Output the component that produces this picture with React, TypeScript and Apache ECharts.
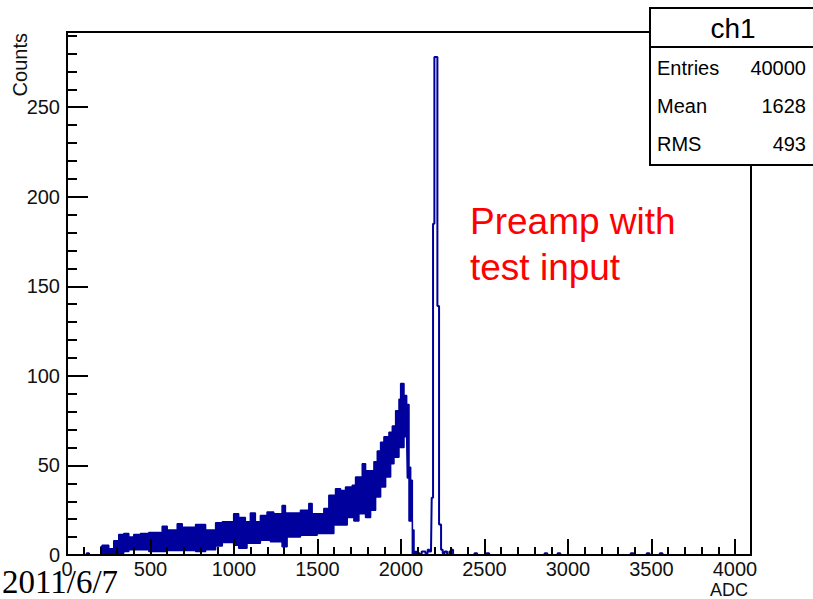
import React, { useEffect, useRef } from 'react';
import * as echarts from 'echarts';

const BLUE = '#00009c';
const X_MAX = 4096;
const Y_MAX = 292;

// ch1 continuum: bin edges (ADC) with the upper and lower envelope of the counts
const bandEdges = [
  200, 210, 250, 280, 310, 340, 370, 400, 440, 490, 570, 600, 660, 690, 770, 830, 890, 930,
  998, 1028, 1068, 1078, 1098, 1128, 1158, 1198, 1218, 1238, 1288, 1308, 1318, 1398, 1448,
  1468, 1498, 1538, 1568, 1598, 1608, 1638, 1668, 1678, 1708, 1718, 1728, 1748, 1768, 1788,
  1818, 1838, 1848, 1858, 1878, 1898, 1908, 1928, 1938, 1948, 1958, 1968, 1988, 1998, 2018,
  2034, 2038, 2048, 2058, 2068, 2078, 2098,
];
const bandUpper = [
  4.6, 5.5, 3.5, 8, 11.5, 12, 10, 11.5, 12, 12.5, 16, 14, 17.5, 15.5, 17, 14, 18, 18.5,
  23, 21, 18.5, 18.5, 23.5, 18.5, 22, 24, 24, 23, 27.7, 23.5, 23.5, 25, 28.7,
  23, 23, 26, 33.3, 33.3, 37, 36, 38, 38, 39, 39, 43.5, 43.5, 51, 47,
  47, 52, 52, 58, 63, 66, 66, 68.5, 68.5, 72, 72, 80.5, 87, 95.7, 89,
  84, 84, 49, 41.7, 14, 2, 0,
];
const bandLower = [
  0.5, 1, 0.5, 1, 1, 2, 3, 3, 3, 2, 2, 2.5, 2.5, 2.5, 2, 3, 5, 7,
  5.5, 3.7, 3.7, 6.5, 6.5, 6.5, 8.3, 8.3, 7.4, 7.4, 4.6, 4.6, 10, 11, 11,
  11, 12, 12, 12, 16.7, 16.7, 16.7, 16.7, 21, 21, 19, 19, 23, 23, 21,
  25, 25, 32.4, 32.4, 38, 38, 43.5, 43.5, 51, 51, 54.6, 54.6, 60, 60, 66,
  66, 43, 19, 19, 0, 0, 0,
];

// isolated bins and the test-pulse peak
const peakEdges = [
  0, 118, 132, 2098, 2112, 2124, 2146, 2160, 2170, 2180, 2184, 2192, 2200, 2218, 2228, 2240,
  2250, 2262, 2276, 2290, 2300, 2312, 2440, 2456, 2512, 2528, 2860, 2876, 2938, 2954, 3376,
  3392, 3472, 3488, 3550, 3566, 4096,
];
const peakCounts = [
  0, 1, 0, 1, 0, 2, 1, 3, 2, 4, 32, 185, 278, 139, 17, 3,
  1, 2, 0, 2, 3, 0, 1, 0, 1, 0, 1, 0, 1, 0, 1,
  0, 1, 0, 1, 0, 0,
];

const xTickLabels = ['0', '500', '1000', '1500', '2000', '2500', '3000', '3500', '4000'];
const yTickLabels = ['0', '50', '100', '150', '200', '250'];

const histTitle = 'ch1';
const statNames = ['Entries', 'Mean', 'RMS'];
const statValues = ['40000', '1628', '493'];

const SANS = '"Liberation Sans", Arial, Helvetica, sans-serif';

export default function App() {
  const ref = useRef<HTMLDivElement>(null);

  useEffect(() => {
    const chart = echarts.init(ref.current as HTMLDivElement, null, { renderer: 'svg' });
    const xSet = new Set(xTickLabels);
    const ySet = new Set(yTickLabels);
    const axisLineStyle = () => ({ color: '#000', width: 2 });
    const hiddenLine = () => ({ color: '#000', width: 0.01, opacity: 0 });
    const tickStyle = () => ({ color: '#000', width: 2 });

    const statRowsY = [68, 106, 144];
    const statGraphics: any[] = [];
    statNames.forEach((name, i) => {
      statGraphics.push({
        type: 'text', x: 657, y: statRowsY[i], z: 12,
        style: { text: name, fontSize: 20, fontFamily: SANS, fill: '#000', align: 'left', verticalAlign: 'middle' },
      });
      statGraphics.push({
        type: 'text', x: 806, y: statRowsY[i], z: 12,
        style: { text: statValues[i], fontSize: 20, fontFamily: SANS, fill: '#000', align: 'right', verticalAlign: 'middle' },
      });
    });

    chart.setOption({
      animation: false,
      backgroundColor: '#fff',
      grid: {
        left: 67, right: 62, top: 32, bottom: 44,
        show: true, borderColor: '#000', borderWidth: 2, backgroundColor: 'transparent',
      },
      xAxis: [
        {
          // minor ticks every 100 ADC, labels every 500
          type: 'value', min: 0, max: X_MAX, interval: 100, position: 'bottom', z: 5,
          axisLine: { show: true, onZero: false, lineStyle: axisLineStyle() },
          axisTick: { show: true, inside: true, length: 8, lineStyle: tickStyle() },
          axisLabel: {
            margin: 4, fontSize: 20, fontFamily: SANS, color: '#111',
            formatter: (v: number) => (xSet.has(String(Math.round(v))) ? String(Math.round(v)) : ''),
          },
          splitLine: { show: false },
        },
        {
          // major ticks every 500 ADC
          type: 'value', min: 0, max: X_MAX, interval: 500, position: 'bottom', z: 5,
          axisLine: { show: true, onZero: false, lineStyle: hiddenLine() },
          axisTick: { show: true, inside: true, length: 16, lineStyle: tickStyle() },
          axisLabel: { show: false },
          splitLine: { show: false },
        },
      ],
      yAxis: [
        {
          type: 'value', min: 0, max: Y_MAX, interval: 10, position: 'left', z: 5,
          axisLine: { show: true, onZero: false, lineStyle: axisLineStyle() },
          axisTick: { show: true, inside: true, length: 10, lineStyle: tickStyle() },
          axisLabel: {
            margin: 7, fontSize: 20, fontFamily: SANS, color: '#111',
            formatter: (v: number) => (ySet.has(String(Math.round(v))) ? String(Math.round(v)) : ''),
          },
          splitLine: { show: false },
        },
        {
          type: 'value', min: 0, max: Y_MAX, interval: 50, position: 'left', z: 5,
          axisLine: { show: true, onZero: false, lineStyle: hiddenLine() },
          axisTick: { show: true, inside: true, length: 21, lineStyle: tickStyle() },
          axisLabel: { show: false },
          splitLine: { show: false },
        },
      ],
      series: [
        {
          // filled from zero up to the upper envelope
          name: 'ch1 upper', type: 'line', xAxisIndex: 0, yAxisIndex: 0,
          step: 'end', symbol: 'none', z: 2,
          lineStyle: { color: BLUE, width: 1.5 },
          areaStyle: { color: BLUE, opacity: 1 },
          data: bandEdges.map((x, i) => [x, bandUpper[i]]),
        },
        {
          // white under the lower envelope leaves only the band between the two
          name: 'ch1 lower', type: 'line', xAxisIndex: 0, yAxisIndex: 0,
          step: 'end', symbol: 'none', z: 3,
          lineStyle: { color: BLUE, width: 1.5 },
          areaStyle: { color: '#ffffff', opacity: 1 },
          data: bandEdges.map((x, i) => [x, bandLower[i]]),
        },
        {
          name: 'ch1 peak', type: 'line', xAxisIndex: 0, yAxisIndex: 0,
          step: 'end', symbol: 'none', z: 4,
          lineStyle: { color: BLUE, width: 2 },
          data: peakEdges.map((x, i) => [x, peakCounts[i]]),
        },
      ],
      graphic: [
        {
          type: 'text', x: 20, y: 33, rotation: Math.PI / 2, z: 10,
          style: { text: 'Counts', fontSize: 20, fontFamily: SANS, fill: '#111', align: 'right', verticalAlign: 'middle' },
        },
        {
          type: 'text', x: 748, y: 590, z: 10,
          style: { text: 'ADC', fontSize: 18, fontFamily: SANS, fill: '#111', align: 'right', verticalAlign: 'middle' },
        },
        {
          type: 'text', x: 2, y: 582, z: 10,
          style: { text: '2011/6/7', fontSize: 33, fontFamily: '"Liberation Serif", "Times New Roman", serif', fill: '#000', align: 'left', verticalAlign: 'middle' },
        },
        {
          type: 'text', x: 470, y: 221, z: 10,
          style: { text: 'Preamp with', fontSize: 37, fontFamily: SANS, fill: '#ff0000', align: 'left', verticalAlign: 'middle' },
        },
        {
          type: 'text', x: 470, y: 267, z: 10,
          style: { text: 'test input', fontSize: 37, fontFamily: SANS, fill: '#ff0000', align: 'left', verticalAlign: 'middle' },
        },
        {
          type: 'rect', z: 11,
          shape: { x: 650, y: 8, width: 180, height: 157 },
          style: { fill: '#fff', stroke: '#000', lineWidth: 2 },
        },
        {
          type: 'line', z: 12,
          shape: { x1: 650, y1: 47, x2: 830, y2: 47 },
          style: { stroke: '#000', lineWidth: 2 },
        },
        {
          type: 'text', x: 733, y: 28, z: 12,
          style: { text: histTitle, fontSize: 28, fontFamily: SANS, fill: '#000', align: 'center', verticalAlign: 'middle' },
        },
        ...statGraphics,
      ],
    });

    return () => chart.dispose();
  }, []);

  return (
    <div
      ref={ref}
      style={{ position: 'absolute', left: 0, top: 0, width: 813, height: 599, background: '#fff' }}
    />
  );
}
